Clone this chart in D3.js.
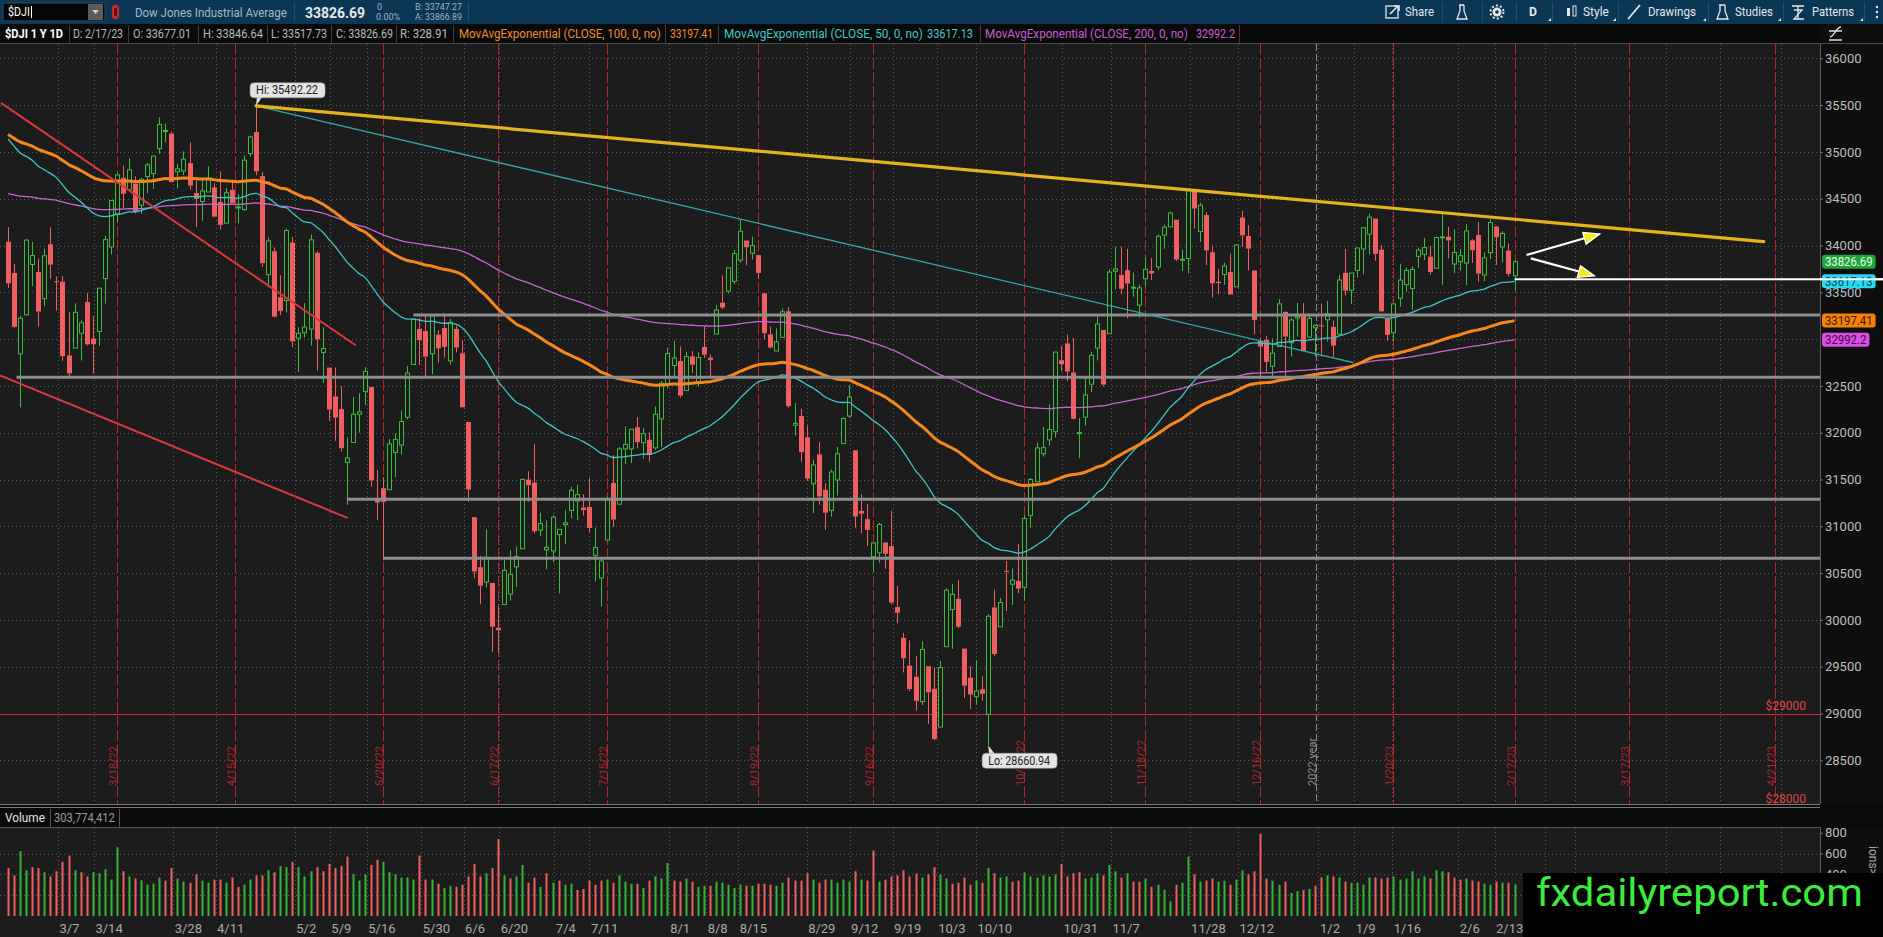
<!DOCTYPE html>
<html>
<head>
<meta charset="utf-8">
<title>$DJI 1 Y 1D</title>
<script src="https://cdn.jsdelivr.net/npm/d3@7"></script>
<style>
  body { margin: 0; background: #1c1c1c; overflow: hidden; }
  svg { display: block; }
  text { font-family: "Liberation Sans Narrow", "Arial Narrow", Roboto, sans-serif; }
</style>
</head>
<body>
<svg width="1883" height="937"></svg>
<script>
// ---- data ----
const holidays = ["2022-04-15", "2022-05-30", "2022-06-20", "2022-07-04", "2022-09-05", "2022-11-24",
  "2022-12-26", "2023-01-02", "2023-01-16", "2023-02-20", "2023-04-07"];

// daily open, high, low, close, 2/22/22 .. 2/17/23
const ohlc = [
  // Feb 22
  [34040,34196,33545,33596],[33707,33803,33121,33131],[32843,33249,32272,33223],[33259,34067,33259,34058],[33797,34038,33566,33893],
  // Mar
  [33717,33860,33133,33295],[33432,33966,33351,33891],[34013,34194,33645,33795],[33617,33669,33304,33615],[33615,33672,32768,32818],
  [32826,33289,32580,32633],[32903,33383,32903,33286],[33063,33202,32771,33174],[33396,33494,32930,32944],[33006,33244,32632,32945],
  [33081,33549,32926,33544],[33646,34103,33380,34063],[33985,34481,33907,34481],[34334,34776,34248,34754],[34723,34853,34397,34553],
  [34596,34931,34585,34808],[34662,34740,34345,34359],[34431,34720,34339,34708],[34736,34882,34559,34862],[34770,34961,34604,34955],
  [35035,35372,34979,35294],[35225,35303,35104,35229],[35196,35217,34676,34678],
  // Apr
  [34788,34874,34609,34818],[34796,35005,34753,34922],[34880,35102,34595,34641],[34562,34694,34196,34497],[34470,34700,34264,34583],
  [34572,34847,34572,34721],[34622,34665,34298,34308],[34465,34793,34172,34220],[34239,34617,34239,34564],[34595,34701,34451,34451],
  [34404,34549,34235,34412],[34383,34964,34372,34911],[34982,35174,34949,35161],[35212,35492.22,34750,34793],[34741,34784,33771,33811],
  [33688,34088,33553,34049],[33939,33981,33231,33240],[33447,33682,33258,33302],[33413,34177,33286,34160],[34032,34090,32914,32977],
  // May
  [33010,33126,32646,33062],[33068,33384,33015,33129],[33107,34117,32929,34061],[33922,33942,32660,32998],[32857,33126,32530,32899],
  [32696,32697,32128,32246],[32388,32697,31912,32161],[32252,32495,31797,31834],[31681,31950,31228,31730],[31896,32383,31896,32197],
  [32197,32420,32000,32223],[32441,32701,32296,32655],[32488,32488,31426,31490],[31281,31602,31067,31254],[31407,31525,30636,31262],
  [31392,31932,31392,31880],[31790,31989,31525,31929],[31868,32237,31767,32120],[32164,32714,32143,32637],[32729,33213,32729,33213],
  [33108,33225,32722,32990],
  // Jun
  [33086,33264,32584,32813],[32843,33249,32626,33248],[33048,33093,32748,32900],[33118,33272,32805,32916],[32768,33218,32728,33180],
  [33109,33143,32858,32910],[32849,32988,32270,32272],[32115,32115,31264,31393],[31098,31098,30447,30517],[30563,30684,30167,30365],
  [30405,30968,30346,30668],[30395,30395,29654,29927],[29916,30146,29653,29889],[30165,30646,30162,30530],[30276,30747,30207,30484],
  [30567,30782,30350,30677],[30760,31510,30760,31501],[31499,31588,31263,31439],[31467,31882,30922,30947],[30959,31145,30894,31029],
  [30748,31063,30543,30775],
  // Jul
  [30737,31119,30615,31097],[30912,30969,30283,30968],[31019,31173,30809,31037],[31169,31422,31087,31385],[31271,31445,31066,31338],
  [31201,31343,31115,31173],[31206,31519,30938,30982],[30690,30986,30410,30772],[30448,30657,30143,30630],[30853,31317,30853,31288],
  [31463,31760,30996,31072],[31236,31847,31232,31827],[31827,32067,31662,31875],[31826,32038,31677,32037],[32059,32167,31833,31899],
  [31893,32053,31721,31990],[31925,32003,31689,31762],[31838,32282,31819,32198],[32147,32553,31848,32529],[32514,32910,32473,32845],
  // Aug
  [32717,32984,32599,32798],[32765,32920,32374,32397],[32451,32864,32451,32813],[32816,32873,32639,32727],[32532,32859,32492,32803],
  [32916,33137,32798,32833],[32802,32837,32597,32775],[33054,33365,33054,33310],[33390,33680,33320,33337],[33512,33762,33487,33761],
  [33617,33954,33589,33913],[33844,34281,33816,34152],[34053,34053,33788,33981],[33918,34095,33852,33999],[33897,33897,33641,33707],
  [33490,33490,32994,33064],[33051,33134,32900,32910],[32873,33114,32873,32969],[33019,33326,33019,33292],[33297,33341,32267,32283],
  [32080,32316,31968,32099],[32178,32257,31689,31791],[31952,32077,31483,31510],
  // Sep
  [31455,31713,31142,31656],[31769,31899,31231,31318],[31390,31460,30961,31145],[31170,31608,31103,31581],[31495,31848,31329,31775],
  [31883,32165,31883,32152],[32178,32505,32155,32381],[31812,31812,30985,31105],[31164,31341,30926,31135],[31077,31237,30789,30962],
  [30675,30822,30509,30822],[30717,31039,30611,31020],[30827,30827,30545,30706],[30789,31167,30165,30184],[30137,30361,29963,30077],
  [29807,29861,29439,29590],[29512,29780,29239,29261],[29393,29611,29032,29135],[29127,29772,29090,29684],[29505,29505,28886,29226],
  [29264,29492,28715,28726],
  // Oct
  [28855,29560,28855,29491],[29714,30338,29714,30317],[30111,30382,29691,30274],[30225,30428,29911,29927],[29693,29693,29166,29297],
  [29382,29504,29047,29203],[29180,29568,29093,29240],[29260,29397,29136,29211],[28991,30061,28660.94,30039],[30133,30324,29615,29635],
  [29926,30235,29926,30186],[30526,30629,30094,30524],[30381,30550,30161,30424],[30417,30810,30286,30334],[30349,31121,30206,31083],
  [31117,31518,30986,31500],[31479,31894,31474,31837],[31775,32063,31745,31840],[31923,32304,31861,32034],[32011,32862,31949,32861],
  [32774,32928,32658,32733],
  // Nov
  [32955,33049,32552,32653],[32643,33012,32143,32148],[31990,32155,31727,32001],[32166,32583,32076,32403],[32518,32862,32433,32827],
  [32905,33263,32772,33161],[33098,33098,32493,32514],[33057,33746,33057,33716],[33725,33987,33532,33748],[33686,33986,33483,33537],
  [33737,33964,33222,33593],[33552,33711,33452,33554],[33363,33580,33230,33547],[33645,33876,33556,33746],[33729,33867,33632,33700],
  [33770,34117,33737,34098],[34112,34222,33966,34195],[34199,34362,34199,34347],[34276,34276,33833,33850],[33845,33955,33728,33853],
  [33860,34590,33702,34590],
  // Dec
  [34590,34595,34183,34395],[34148,34456,34037,34430],[34325,34356,33790,33947],[33929,34002,33443,33597],[33613,33752,33478,33598],
  [33690,33816,33580,33781],[33716,33914,33470,33477],[33558,34011,33558,34005],[34300,34370,33985,34108],[34102,34216,33732,33966],
  [33733,33733,33052,33203],[32980,33018,32573,32920],[32991,33034,32647,32757],[32711,33007,32581,32850],[32920,33426,32920,33377],
  [33291,33296,32573,33027],[32961,33226,32814,33204],[33224,33388,33028,33241],[33264,33384,32869,32876],[33021,33270,33021,33221],
  [33121,33121,32813,33147],
  // Jan
  [33148,33379,32813,33136],[33206,33410,32975,33270],[33131,33198,32812,32930],[33053,33686,33053,33631],[33708,33964,33465,33518],
  [33522,33708,33375,33705],[33735,33974,33660,33974],[33963,34191,33693,34190],[34121,34342,33904,34303],[34288,34290,33837,33910],
  [33957,34004,33287,33297],[33221,33221,32983,33045],[33068,33382,32981,33376],[33437,33806,33343,33630],[33582,33763,33507,33734],
  [33541,33777,33312,33744],[33884,33977,33760,33950],[33906,34082,33844,33978],[33881,33995,33687,33717],[33757,34095,33757,34086],
  // Feb
  [34090,34335,33582,34093],[34094,34200,33863,34054],[33802,34170,33704,33926],[33827,33958,33732,33891],[33813,34228,33577,34156],
  [34055,34067,33814,33949],[34112,34252,33613,33699],[33684,33926,33620,33869],[33923,34282,33857,34246],[34203,34209,33792,34089],
  [33985,34151,33818,34128],[33946,34021,33668,33697],[33677.01,33846.64,33517.73,33826.69]
];
const prevClose = 34079;

// volume, millions
const volumes = [
  460,390,623,440,470,460,420,380,430,520,580,440,420,380,420,410,450,350,660,430,380,360,343,300,310,
  370,340,460,360,330,320,400,340,320,350,350,320,370,280,300,350,390,390,440,420,480,470,520,470,380,
  430,470,430,500,460,480,570,400,340,400,490,540,520,420,400,370,370,350,580,350,350,310,270,290,280,
  300,380,500,380,410,460,740,390,360,380,490,320,370,280,410,320,340,300,310,250,260,340,300,340,350,
  320,390,330,310,310,270,340,380,360,510,340,330,360,330,280,290,290,330,320,300,270,300,290,290,310,
  310,300,290,320,370,340,340,410,350,320,350,350,320,350,330,430,350,340,630,330,350,380,390,440,380,
  410,370,400,470,400,360,310,320,370,300,340,320,460,410,370,380,330,340,420,380,370,390,380,400,500,
  380,410,420,360,370,410,390,490,430,370,410,330,330,360,280,300,250,140,300,320,570,400,330,340,360,
  330,340,300,350,440,400,430,790,360,340,300,330,220,240,250,260,290,370,390,380,370,330,320,320,300,
  370,370,360,370,380,350,360,430,360,380,360,440,430,420,370,350,360,340,330,310,300,330,320,320,304
];
const volumeLast = "303,774,412";

const emaPeriods = [50, 100, 200];
const emaSeeds = [35203, 35217, 34564];
const emaLast = [33617.13, 33197.41, 32992.2];

const priceTicks = d3.range(28500, 36001, 500);
const volumeTicks = [200, 400, 600, 800];
const volumeLabels = [400, 600, 800];

// time axis labels and the bar position where each one sits
const timeLabels = ["3/7","3/14","3/28","4/11","5/2","5/9","5/16","5/30","6/6","6/20","7/4","7/11","8/1","8/8",
  "8/15","8/29","9/12","9/19","10/3","10/10","10/31","11/7","11/28","12/12","1/2","1/9","1/16","2/6","2/13"];
const timeLabelPos = [8.25,14.2,27.3,34.3,47.4,53.2,59.3,68.3,75.3,81.2,90.3,96.1,109.2,115.4,
  120.7,132.0,139.1,146.2,153.5,160.0,174.2,182.3,195.3,203.3,216.6,222.5,228.8,239.7,245.7];
const futureTicks = ["2023-02-27","2023-03-06","2023-03-27","2023-04-10","2023-04-24"];
const expiries = ["2022-03-18","2022-04-15","2022-05-20","2022-06-17","2022-07-15","2022-08-19","2022-09-16",
  "2022-10-21","2022-11-18","2022-12-16","2023-01-20","2023-02-17","2023-03-17","2023-04-21"];
const yearBreak = 216.2;

// drawings: [bar index, price]
const resistance = [[41, 35492.22], [290.2, 34041]];
const fromHigh = [[41, 35492.22], [222.3, 32750]];
const channelUpper = [[-1.04, 35519], [57.4, 32937]];
const channelLower = [[-1.32, 32611], [56.0, 31093]];
const levels = [[67, 33257], [1.4, 32592], [56, 31288], [62, 30658]];
const alertLevels = [29000, 28000];
const whiteLevel = 33640;
const arrows = [[[251.0, 33899], [263.1, 34124]], [[251.7, 33863], [262.2, 33677]]];

// ---- layout ----
const svg = d3.select("svg");
const W = 1883, H = 937;
const plotRight = 1820, priceTop = 44, priceBottom = 804, volBottom = 916;

function tradingDays(from, to) {
  const out = [];
  for (let d = new Date(from + "T12:00:00Z"); d <= new Date(to + "T12:00:00Z"); d.setUTCDate(d.getUTCDate() + 1)) {
    const s = d.toISOString().slice(0, 10), wd = d.getUTCDay();
    if (wd === 0 || wd === 6 || holidays.includes(s)) continue;
    out.push(s);
  }
  return out;
}
const days = tradingDays("2022-02-22", "2023-05-10");
function dayIndex(s, off) {
  const i = days.findIndex(d => d >= s);
  return days[i] === s ? i : i - off;
}

// squeeze a text horizontally to a given width (the original uses a condensed face)
function fit(sel, len) {
  const n = sel.node().getComputedTextLength();
  const xx = +sel.attr("x"), yy = +sel.attr("y");
  const k = n > 0 ? len / n : 1;
  const anchor = sel.attr("text-anchor");
  sel.attr("x", 0).attr("y", 0).attr("transform", `translate(${xx},${yy}) scale(${k},1)`);
  if (anchor) sel.attr("text-anchor", anchor);
  return sel;
}

const x = d3.scaleLinear().domain([0, ohlc.length - 1]).range([8, 1514.5]);
const y = d3.scaleLinear().domain([28000, 36000]).range([807.1, 58.3]);
const yv = d3.scaleLinear().domain([0, 800]).range([volBottom, 832.7]);
const px = v => Math.round(v) + 0.5;

// backgrounds
svg.append("rect").attr("width", W).attr("height", H).attr("fill", "#1c1c1c");
svg.append("rect").attr("x", plotRight).attr("y", 24).attr("width", W - plotRight).attr("height", H - 24).attr("fill", "#0e0e0e");
svg.append("line").attr("x1", plotRight + 0.5).attr("x2", plotRight + 0.5).attr("y1", 44).attr("y2", volBottom).attr("stroke", "#5c5c5c");

const defs = svg.append("defs");
defs.append("clipPath").attr("id", "price").append("rect")
  .attr("x", 0).attr("y", priceTop).attr("width", plotRight).attr("height", priceBottom - priceTop);
defs.append("clipPath").attr("id", "wide").append("rect")
  .attr("x", 0).attr("y", priceTop).attr("width", W).attr("height", priceBottom - priceTop);

const grid = svg.append("g").attr("stroke", "#5a5a5a").attr("stroke-dasharray", "1,3");
grid.selectAll(".h").data(priceTicks).join("line")
  .attr("x1", 0).attr("x2", plotRight).attr("y1", d => px(y(d))).attr("y2", d => px(y(d)));
grid.selectAll(".hv").data(volumeTicks.slice(0, 3)).join("line")
  .attr("x1", 0).attr("x2", plotRight).attr("y1", d => px(yv(d))).attr("y2", d => px(yv(d)));
const gridX = timeLabelPos.map(x).concat(futureTicks.map(s => x(dayIndex(s, 0))));
grid.selectAll(".v").data(gridX).join("line")
  .attr("x1", d => px(d)).attr("x2", d => px(d)).attr("y1", priceTop).attr("y2", priceBottom);
grid.selectAll(".vv").data(gridX).join("line")
  .attr("x1", d => px(d)).attr("x2", d => px(d)).attr("y1", 828).attr("y2", volBottom);

// expiration and year markers
const price = svg.append("g").attr("clip-path", "url(#price)");
expiries.forEach(s => {
  const xx = px(x(dayIndex(s, 0.5)));
  price.append("line").attr("x1", xx).attr("x2", xx).attr("y1", priceTop).attr("y2", priceBottom)
    .attr("stroke", "#b8252c").attr("stroke-dasharray", "11,3");
  const [yy, mm, dd] = s.split("-");
  price.append("text").attr("transform", `translate(${xx - 1},786) rotate(-90)`)
    .attr("font-size", 11).attr("fill", "#a8262d").text(`${+mm}/${+dd}/${yy.slice(2)}`);
});
{
  const xx = px(x(yearBreak));
  price.append("line").attr("x1", xx).attr("x2", xx).attr("y1", priceTop).attr("y2", priceBottom)
    .attr("stroke", "#8c8c8c").attr("stroke-dasharray", "7,3");
  price.append("text").attr("transform", `translate(${xx - 1},786) rotate(-90)`)
    .attr("font-size", 11).attr("fill", "#8c8c8c").text("2022 year");
}
alertLevels.forEach(v => {
  price.append("line").attr("x1", 0).attr("x2", plotRight).attr("y1", px(y(v))).attr("y2", px(y(v)))
    .attr("stroke", "#d02a30");
  price.append("text").attr("x", 1806).attr("y", y(v) - 4).attr("text-anchor", "end")
    .attr("font-size", 12).attr("fill", "#e0454b").text("$" + v);
});

// candles
const candles = price.append("g");
ohlc.forEach(([o, h, l, c], i) => {
  const cx = px(x(i)), up = c >= o;
  const top = y(Math.max(o, c)), bot = y(Math.min(o, c));
  const col = up ? "#3dbb3d" : "#f05f5f";
  candles.append("line").attr("x1", cx).attr("x2", cx).attr("y1", y(h)).attr("y2", top).attr("stroke", col);
  candles.append("line").attr("x1", cx).attr("x2", cx).attr("y1", bot).attr("y2", y(l)).attr("stroke", col);
  if (up) {
    candles.append("rect").attr("x", cx - 2).attr("y", top).attr("width", 4).attr("height", Math.max(1, bot - top))
      .attr("fill", "#1c1c1c").attr("stroke", col);
  } else {
    candles.append("rect").attr("x", cx - 2.5).attr("y", top).attr("width", 5).attr("height", Math.max(1, bot - top))
      .attr("fill", col);
  }
});

// exponential moving averages of the closes
const closes = ohlc.map(d => d[3]);
const emaColors = ["#3ec6c9", "#f5861c", "#c565d2"], emaWidths = [1.3, 3, 1.3];
const line = d3.line().x((d, i) => x(i)).y(d => y(d)).curve(d3.curveMonotoneX);
const emaSeries = emaPeriods.map((n, k) => {
  const a = 2 / (n + 1);
  let e = emaSeeds[k];
  return closes.map(c => (e = e + a * (c - e)));
});
[2, 0, 1].forEach(k => {
  price.append("path").attr("d", line(emaSeries[k])).attr("fill", "none")
    .attr("stroke", emaColors[k]).attr("stroke-width", emaWidths[k]);
});

// drawings
const seg = (pts, color, w) => price.append("line")
  .attr("x1", x(pts[0][0])).attr("y1", y(pts[0][1])).attr("x2", x(pts[1][0])).attr("y2", y(pts[1][1]))
  .attr("stroke", color).attr("stroke-width", w).attr("stroke-linecap", "round");
levels.forEach(([i, v]) => price.append("line").attr("x1", x(i)).attr("x2", plotRight)
  .attr("y1", y(v)).attr("y2", y(v)).attr("stroke", "#8d8d8d").attr("stroke-width", 3));
seg(channelUpper, "#d8383f", 2);
seg(channelLower, "#d8383f", 2);
seg(fromHigh, "#37a3ab", 1.3);
seg(resistance, "#e3b320", 3.2);

svg.append("line").attr("clip-path", "url(#wide)").attr("x1", x(ohlc.length - 1)).attr("x2", W)
  .attr("y1", y(whiteLevel)).attr("y2", y(whiteLevel)).attr("stroke", "#ffffff").attr("stroke-width", 2);

arrows.forEach(([p0, p1]) => {
  const x0 = x(p0[0]), y0 = y(p0[1]), x1 = x(p1[0]), y1 = y(p1[1]);
  const a = Math.atan2(y1 - y0, x1 - x0), L = 16, hw = 6;
  const bx = x1 - L * Math.cos(a), by = y1 - L * Math.sin(a);
  const nx = -Math.sin(a) * hw, ny = Math.cos(a) * hw;
  price.append("line").attr("x1", x0).attr("y1", y0).attr("x2", bx).attr("y2", by)
    .attr("stroke", "#fff").attr("stroke-width", 2.2);
  price.append("polygon").attr("points", `${x1},${y1} ${bx + nx},${by + ny} ${bx - nx},${by - ny}`)
    .attr("fill", "#f2ec1a").attr("stroke", "#fff").attr("stroke-width", 1.3);
});

// high / low bubbles
const hiI = d3.maxIndex(ohlc, d => d[1]), loI = d3.minIndex(ohlc, d => d[2]);
function bubble(i, v, label, above) {
  const bx = x(i), by = y(v), g = svg.append("g");
  const ry = above ? by - 23 : by + 8;
  g.append("path").attr("d", above ? `M${bx + 1},${ry + 13} L${bx},${by} L${bx + 7},${ry + 13}Z`
                                   : `M${bx + 1},${ry + 1} L${bx},${by} L${bx + 7},${ry + 1}Z`).attr("fill", "#e4e4e4");
  g.append("rect").attr("x", bx - 6).attr("y", ry).attr("width", 75).attr("height", 15).attr("rx", 4)
    .attr("fill", "#e4e4e4").attr("stroke", "#9a9a9a").attr("stroke-width", 0.6);
  fit(g.append("text").attr("x", bx).attr("y", ry + 11.5)
    .attr("font-size", 12).attr("fill", "#222").text(label), 62);
}
bubble(hiI, ohlc[hiI][1], "Hi: " + d3.format(".2f")(ohlc[hiI][1]), true);
bubble(loI, ohlc[loI][2], "Lo: " + d3.format(".2f")(ohlc[loI][2]), false);

// volume panel
svg.append("rect").attr("x", 0).attr("y", 804).attr("width", W).attr("height", 23).attr("fill", "#0b0b0b");
svg.append("line").attr("x1", 0).attr("x2", plotRight).attr("y1", 804.5).attr("y2", 804.5).attr("stroke", "#777");
svg.append("line").attr("x1", 0).attr("x2", plotRight).attr("y1", 807.5).attr("y2", 807.5).attr("stroke", "#777");
svg.append("line").attr("x1", 0).attr("x2", plotRight).attr("y1", 827.5).attr("y2", 827.5).attr("stroke", "#555");
svg.append("line").attr("x1", 50.5).attr("x2", 50.5).attr("y1", 809).attr("y2", 827).attr("stroke", "#555");
svg.append("line").attr("x1", 119.5).attr("x2", 119.5).attr("y1", 809).attr("y2", 827).attr("stroke", "#555");
fit(svg.append("text").attr("x", 5).attr("y", 822).attr("font-size", 13).attr("fill", "#e0e0e0").text("Volume"), 40);
fit(svg.append("text").attr("x", 54).attr("y", 822).attr("font-size", 13).attr("fill", "#9a9a9a").text(volumeLast), 61);

svg.append("g").selectAll("rect").data(volumes).join("rect")
  .attr("x", (d, i) => Math.round(x(i)) - 0.5).attr("width", 2)
  .attr("y", d => yv(d)).attr("height", d => volBottom - yv(d))
  .attr("fill", (d, i) => ohlc[i][3] >= (i ? ohlc[i - 1][3] : prevClose) ? "#35b335" : "#ee5f5f");

// last-value flags on the price axis
const flags = [[ohlc[ohlc.length - 1][3], "#1fa53b", "#e8ffe8"], [emaLast[0], "#24dcee", "#0b4450"],
               [emaLast[1], "#f5800c", "#3a1c00"], [emaLast[2], "#df4be6", "#3a0b3d"]];

// axes
const freeTicks = priceTicks.filter(t => flags.every(f => Math.abs(y(t) - y(f[0])) > 9));
const axP = svg.append("g").attr("transform", `translate(${plotRight},0)`)
  .call(d3.axisRight(y).tickValues(freeTicks).tickSize(3).tickPadding(2).tickFormat(d3.format("d")));
const axV = svg.append("g").attr("transform", `translate(${plotRight},0)`)
  .call(d3.axisRight(yv).tickValues(volumeLabels).tickSize(3).tickPadding(2));
[axP, axV].forEach(a => {
  a.select(".domain").remove();
  a.selectAll("line").attr("stroke", "#777");
  a.selectAll("text").attr("fill", "#bdbdbd").attr("font-size", 13).style("font-family", null);
});

const axX = svg.append("g").attr("transform", `translate(0,${volBottom})`)
  .call(d3.axisBottom(x).tickValues(timeLabelPos).tickSize(0).tickPadding(8)
    .tickFormat((d, i) => timeLabels[i]));
axX.select(".domain").remove();
axX.selectAll("text").attr("fill", "#a9a9a9").attr("font-size", 13).attr("text-anchor", "start")
  .attr("dx", 1).style("font-family", null);

svg.append("text").attr("transform", "translate(1869,846) rotate(90)").attr("font-size", 12)
  .attr("fill", "#aaa").text("ions>");

flags.forEach(([v, bg, fg]) => {
  const t = d3.format(v % 1 ? ".2f" : "d")(v).replace(/0$/, "");
  const w = t.length * 6.2 + 4;
  svg.append("rect").attr("x", 1822).attr("y", y(v) - 7).attr("width", w).attr("height", 14).attr("rx", 3).attr("fill", bg);
  fit(svg.append("text").attr("x", 1825).attr("y", y(v) + 4.5).attr("font-size", 13).attr("fill", fg).text(t), w - 6);
});
svg.append("line").attr("x1", plotRight).attr("x2", W).attr("y1", y(whiteLevel)).attr("y2", y(whiteLevel))
  .attr("stroke", "#fff").attr("stroke-width", 2);

// watermark
svg.append("rect").attr("x", 1523).attr("y", 873).attr("width", W - 1523).attr("height", H - 873).attr("fill", "#000");
fit(svg.append("text").attr("x", 1536).attr("y", 906).attr("font-size", 39).attr("fill", "#3cec3c")
  .text("fxdailyreport.com"), 327);

// ---- header rows ----
svg.append("rect").attr("width", W).attr("height", 24).attr("fill", "#0b3654");
svg.append("rect").attr("y", 24).attr("width", plotRight).attr("height", 20).attr("fill", "#0a0a0a");
svg.append("line").attr("x1", 0).attr("x2", W).attr("y1", 43.5).attr("y2", 43.5).attr("stroke", "#4a4a4a");
const txt = (xx, yy, s, size, fill, len, weight) => fit(svg.append("text").attr("x", xx).attr("y", yy)
  .attr("font-size", size).attr("fill", fill).attr("font-weight", weight || null).text(s), len);

svg.append("rect").attr("x", 3).attr("y", 3).attr("width", 102).attr("height", 18).attr("fill", "#060606").attr("stroke", "#2c4e66");
txt(8, 16, "$DJI", 12, "#fff", 22);
svg.append("line").attr("x1", 31.5).attr("x2", 31.5).attr("y1", 6).attr("y2", 18).attr("stroke", "#fff");
svg.append("rect").attr("x", 88).attr("y", 4).attr("width", 15).attr("height", 16).attr("fill", "#5b5b5b");
svg.append("path").attr("d", "M92,10 L99,10 L95.5,14Z").attr("fill", "#ccc");
svg.append("rect").attr("x", 112).attr("y", 5).attr("width", 7).attr("height", 14).attr("rx", 3).attr("fill", "#c92a2f");
svg.append("rect").attr("x", 114).attr("y", 8).attr("width", 3).attr("height", 8).attr("rx", 1).attr("fill", "#5d1014");
txt(135, 17, "Dow Jones Industrial Average", 13, "#a7b8c5", 152);
txt(305, 18, "33826.69", 15, "#e8e8e8", 60, "bold");
txt(377, 10, "0", 9, "#9fb2c0", 5);
txt(376, 20, "0.00%", 9, "#9fb2c0", 24);
txt(415, 10, "B: 33747.27", 9, "#9fb2c0", 47);
txt(415, 20, "A: 33866.89", 9, "#9fb2c0", 47);
[294, 468].forEach(v => svg.append("line").attr("x1", v + 0.5).attr("x2", v + 0.5).attr("y1", 2).attr("y2", 22).attr("stroke", "#1f4f6e"));

// toolbar
const tb = svg.append("g").attr("fill", "#e3e8ec");
[1442, 1482, 1516, 1552, 1618, 1708, 1783, 1864].forEach(v =>
  svg.append("line").attr("x1", v + 0.5).attr("x2", v + 0.5).attr("y1", 2).attr("y2", 22).attr("stroke", "#1f4f6e"));
[1548, 1613, 1703, 1778, 1860].forEach(v => tb.append("path").attr("d", `M${v},21 L${v + 3},21 L${v + 3},18Z`));
tb.append("rect").attr("x", 1386).attr("y", 6).attr("width", 12).attr("height", 12).attr("fill", "none").attr("stroke", "#e3e8ec").attr("stroke-width", 1.3);
tb.append("path").attr("d", "M1390,14 L1398,6 M1394,6 L1399,6 L1399,11").attr("stroke", "#e3e8ec").attr("stroke-width", 1.6).attr("fill", "none");
txt(1405, 16, "Share", 12, "#e3e8ec", 29);
tb.append("path").attr("d", "M1459,5 L1464,5 M1460,5 L1460,11 L1457,19 L1467,19 L1464,11 L1464,5").attr("fill", "none").attr("stroke", "#e3e8ec").attr("stroke-width", 1.3);
tb.append("circle").attr("cx", 1497).attr("cy", 12).attr("r", 4.5);
tb.append("circle").attr("cx", 1497).attr("cy", 12).attr("r", 6.5).attr("fill", "none").attr("stroke", "#e3e8ec").attr("stroke-width", 2).attr("stroke-dasharray", "2,2.1");
tb.append("circle").attr("cx", 1497).attr("cy", 12).attr("r", 1.8).attr("fill", "#0b3654");
txt(1529, 16, "D", 12, "#e3e8ec", 8, "bold");
tb.append("rect").attr("x", 1567).attr("y", 8).attr("width", 3).attr("height", 8);
tb.append("rect").attr("x", 1573).attr("y", 6).attr("width", 3).attr("height", 10).attr("fill", "none").attr("stroke", "#e3e8ec");
txt(1583, 16, "Style", 12, "#e3e8ec", 26);
tb.append("path").attr("d", "M1628,19 L1640,5").attr("stroke", "#e3e8ec").attr("stroke-width", 1.8);
txt(1648, 16, "Drawings", 12, "#e3e8ec", 48);
tb.append("path").attr("d", "M1719,5 L1725,5 M1720,5 L1720,11 L1717,19 L1728,19 L1725,11 L1725,5").attr("fill", "none").attr("stroke", "#e3e8ec").attr("stroke-width", 1.3);
txt(1735, 16, "Studies", 12, "#e3e8ec", 38);
tb.append("path").attr("d", "M1792,6 L1804,6 M1794,10 L1802,10 L1794,19 L1804,19 M1798,6 L1798,19").attr("fill", "none").attr("stroke", "#e3e8ec").attr("stroke-width", 1.3);
txt(1812, 16, "Patterns", 12, "#e3e8ec", 42);
[7, 12, 17].forEach(v => tb.append("circle").attr("cx", 1877).attr("cy", v).attr("r", 1.2));

// study header row
const cells = [
  [5, "$DJI 1 Y 1D", "#ffffff", 58, "bold"], [73, "D: 2/17/23", "#b9b9b9", 50], [133, "O: 33677.01", "#b9b9b9", 58],
  [203, "H: 33846.64", "#b9b9b9", 60], [271, "L: 33517.73", "#b9b9b9", 56], [336, "C: 33826.69", "#b9b9b9", 57],
  [400, "R: 328.91", "#b9b9b9", 48], [459, "MovAvgExponential (CLOSE, 100, 0, no)", "#f08a2c", 202],
  [670, "33197.41", "#f08a2c", 43], [724, "MovAvgExponential (CLOSE, 50, 0, no)", "#40c8c8", 199],
  [927, "33617.13", "#40c8c8", 46], [985, "MovAvgExponential (CLOSE, 200, 0, no)", "#c95bd0", 203],
  [1196, "32992.2", "#c95bd0", 39]
];
cells.forEach(([xx, s, c, len, wt]) => txt(xx, 38, s, 13, c, len, wt));
[69, 128, 198, 267, 331, 396, 453, 665, 718, 980, 1239].forEach(v =>
  svg.append("line").attr("x1", v + 0.5).attr("x2", v + 0.5).attr("y1", 25).attr("y2", 43).attr("stroke", "#3e3e3e"));
svg.append("path").attr("d", "M1829,31 L1842,31 M1829,40 L1842,40 M1830,37 C1834,37 1836,27 1841,27")
  .attr("fill", "none").attr("stroke", "#ddd").attr("stroke-width", 1.3);
</script>
</body>
</html>
